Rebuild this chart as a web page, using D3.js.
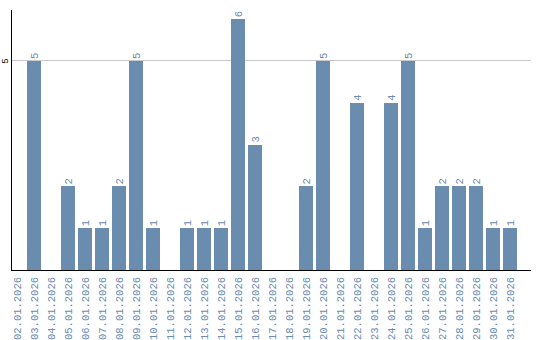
<!DOCTYPE html>
<html><head><meta charset="utf-8">
<script src="https://cdn.jsdelivr.net/npm/d3@7"></script>
<style>body{margin:0;background:#fff}svg{display:block}text{font-family:"Liberation Mono",monospace}</style>
</head><body><svg id="c" width="540" height="340"></svg>
<script>
const categories = ["02.01.2026","03.01.2026","04.01.2026","05.01.2026","06.01.2026","07.01.2026","08.01.2026","09.01.2026","10.01.2026","11.01.2026","12.01.2026","13.01.2026","14.01.2026","15.01.2026","16.01.2026","17.01.2026","18.01.2026","19.01.2026","20.01.2026","21.01.2026","22.01.2026","23.01.2026","24.01.2026","25.01.2026","26.01.2026","27.01.2026","28.01.2026","29.01.2026","30.01.2026","31.01.2026"];
const values = [0,5,0,2,1,1,2,5,1,0,1,1,1,6,3,0,0,2,5,0,4,0,4,5,1,2,2,2,1,1];
const yTicks = [5];

const svg = d3.select("#c");
const color = "#6a8caf";
const x = d3.scaleBand().domain(categories).range([8.5, 518.5]).paddingInner(0.176).paddingOuter(0.088);
const y = d3.scaleLinear().domain([0, 6.22]).range([270, 10]);

svg.append("g").selectAll("line").data(yTicks).join("line")
  .attr("x1", 11).attr("x2", 531).attr("y1", d => y(d)).attr("y2", d => y(d))
  .attr("stroke", "#c8c8c8").attr("stroke-width", 1).attr("shape-rendering","crispEdges");

svg.append("g").selectAll("rect").data(values.map((v,i)=>({c:categories[i],v}))).join("rect")
  .attr("x", d => x(d.c)).attr("width", x.bandwidth())
  .attr("y", d => y(d.v)).attr("height", d => y(0) - y(d.v))
  .attr("fill", color).attr("shape-rendering","crispEdges");

svg.append("g").selectAll("text").data(values.map((v,i)=>({c:categories[i],v})).filter(d=>d.v>0)).join("text")
  .attr("transform", d => `translate(${x(d.c)+x.bandwidth()/2+3.5},${y(d.v)-2}) rotate(-90)`)
  .attr("font-size", 10.5).attr("fill", color).attr("text-anchor","start")
  .text(d => d.v);

svg.append("line").attr("x1",11).attr("x2",11).attr("y1",10).attr("y2",270.5).attr("stroke","#000").attr("shape-rendering","crispEdges");
svg.append("line").attr("x1",11).attr("x2",531).attr("y1",270).attr("y2",270).attr("stroke","#000").attr("shape-rendering","crispEdges");

svg.append("g").selectAll("text").data(yTicks).join("text")
  .attr("transform", d => `translate(8,${y(d)}) rotate(-90)`)
  .attr("font-size", 9).attr("fill","#000").attr("text-anchor","middle")
  .text(d => d);

svg.append("g").selectAll("text").data(categories).join("text")
  .attr("transform", d => `translate(${x(d)+x.bandwidth()/2+3.5},277) rotate(-90)`)
  .attr("font-size", 10.5).attr("fill", color).attr("text-anchor","end")
  .text(d => d);
</script></body></html>
